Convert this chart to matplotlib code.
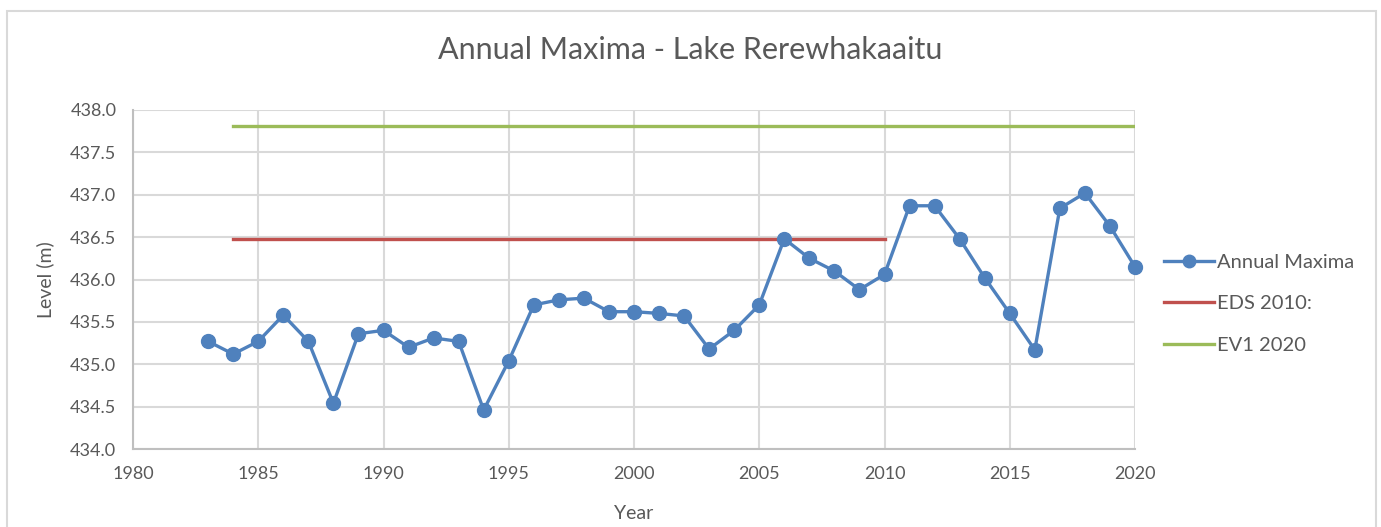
import matplotlib

matplotlib.use("Agg")
import matplotlib.pyplot as plt
from matplotlib.patches import Rectangle

# annual maximum lake levels
years = list(range(1983, 2021))
levels = [435.27, 435.12, 435.27, 435.58, 435.27, 434.54, 435.36, 435.40,
          435.20, 435.31, 435.27, 434.46, 435.04, 435.70, 435.76, 435.78,
          435.62, 435.62, 435.60, 435.57, 435.18, 435.40, 435.70, 436.48,
          436.25, 436.10, 435.88, 436.06, 436.87, 436.87, 436.48, 436.02,
          435.60, 435.17, 436.84, 437.02, 436.63, 436.15]
eds_years = [1984, 2010]
eds_level = [436.48, 436.48]
ev1_years = [1984, 2020]
ev1_level = [437.81, 437.81]

x_ticks = [1980, 1985, 1990, 1995, 2000, 2005, 2010, 2015, 2020]
y_ticks = [434.0, 434.5, 435.0, 435.5, 436.0, 436.5, 437.0, 437.5, 438.0]

txt = "#595959"
plt.rcParams["font.family"] = ["Lato", "DejaVu Sans"]

fig = plt.figure(figsize=(13.81, 5.27), dpi=100)
fig.patches.append(Rectangle((7 / 1381, -0.1), 1369 / 1381, 1.1 - 11 / 527,
                             transform=fig.transFigure, fill=False,
                             ec="#d9d9d9", lw=1.5))
ax = fig.add_axes([133 / 1381, 1 - 449 / 527, 1002 / 1381, 339 / 527])

ax.plot(years, levels, "-o", color="#4f81bd", lw=2.4, ms=10,
        label="Annual Maxima", zorder=4, clip_on=False)
ax.plot(eds_years, eds_level, "-", color="#c0504d", lw=2.4,
        label="EDS 2010:", zorder=3)
ax.plot(ev1_years, ev1_level, "-", color="#9bbb59", lw=2.4,
        label="EV1 2020", zorder=3)

ax.set_xlim(1980, 2020)
ax.set_ylim(434.0, 438.0)
ax.set_xticks(x_ticks)
ax.set_yticks(y_ticks)
ax.set_yticklabels([f"{v:.1f}" for v in y_ticks])
ax.grid(True, color="#d9d9d9", lw=1.5)
ax.set_axisbelow(True)
for side in ("top", "right"):
    ax.spines[side].set_visible(False)
for side in ("left", "bottom"):
    ax.spines[side].set_color("#bfbfbf")
    ax.spines[side].set_linewidth(1.5)
ax.tick_params(length=0, labelsize=13, colors=txt, pad=12)

ax.set_xlabel("Year", fontsize=14, color=txt)
ax.set_ylabel("Level (m)", fontsize=14, color=txt)
ax.xaxis.set_label_coords(0.5, -0.165)
ax.yaxis.set_label_coords(-0.079, 0.5)
fig.text(690 / 1381, 1 - 50 / 527, "Annual Maxima - Lake Rerewhakaaitu",
         ha="center", va="center", fontsize=22, color=txt)

leg = ax.legend(loc="center left", bbox_to_anchor=(1.011, 0.428),
                frameon=False, fontsize=14.5, labelspacing=1.2,
                handlelength=2.5, handletextpad=0.1, markerscale=0.9)
for t in leg.get_texts():
    t.set_color(txt)

fig.savefig("out.png", dpi=100)
